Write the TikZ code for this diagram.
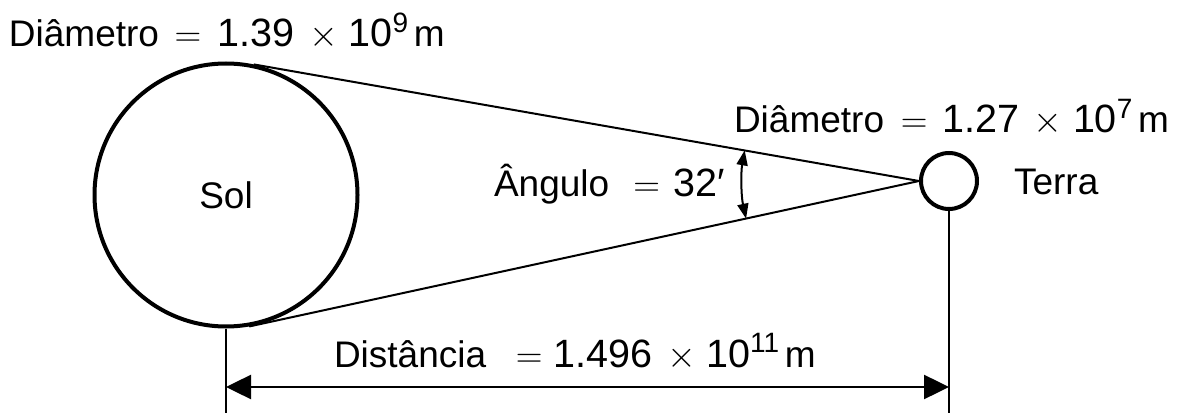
\RequirePackage{fix-cm}
\documentclass[tikz,border=0pt]{standalone}
\usepackage{fontspec}
\setmainfont{Liberation Sans}
\usetikzlibrary{arrows.meta}

\newcommand\bignum[1]{{\fontsize{39.5}{40}\selectfont #1}}
\newcommand\expo[1]{\raisebox{0.4em}{\fontsize{28}{28}\selectfont #1}\hspace{0.15em}}
\newcommand\eqsign[2]{\hspace{#1}$=$\hspace{#2}}
\newcommand\timessign{\hspace{0.4em}$\times$\hspace{0.28em}}

\tikzset{every picture/.style={line width=2pt}}

\begin{document}
\begin{tikzpicture}[x=1pt,y=1pt,yscale=-1,xscale=1,
  body/.style={draw,circle,line width=4pt,inner sep=0pt,font=\fontsize{37}{40}\selectfont},
  txt/.style={anchor=base west,inner sep=0pt,font=\fontsize{37}{40}\selectfont},
  dimline/.style={line width=2.5pt},
  dimarrow/.style={line width=2.5pt,{Triangle[length=25pt,width=24pt]}-{Triangle[length=25pt,width=24pt]}},
  angarrow/.style={line width=2pt,{Triangle[length=15pt,width=11pt]}-{Triangle[length=15pt,width=11pt]}}]
\useasboundingbox (0,0) rectangle (1184,414);

%Shape: Sun and Earth
\node[body,minimum size=263] (sol) at (226,195) {Sol};
\node[body,minimum size=56] (terra) at (949,181) {};
\coordinate (apex) at (terra.west);

%Shape: lines of sight
\draw (sol.78) -- (apex);
\draw (sol.-80) -- (apex);
\draw[angarrow] (apex) ++(189.97:177) arc[start angle=189.97,end angle=167.7,radius=177];

%Shape: distance
\coordinate (ground) at (0,413);
\coordinate (dimy) at (0,387);
\draw[dimline] (sol.south) -- (sol.south |- ground);
\draw[dimline] (terra.south) -- (terra.south |- ground);
\draw[dimarrow] (sol.south |- dimy) -- (terra.south |- dimy);

% Text Node
\node[txt] (diamsol) at (8,47) {Diâmetro\eqsign{0.42em}{0.45em}\bignum{1.39}\timessign\bignum{10}\expo{9}m};
% Text Node
\node[txt] (diamterra) at (733,133) {Diâmetro\eqsign{0.45em}{0.4em}\bignum{1.27}\timessign\bignum{10}\expo{7}m};
% Text Node
\node[txt] (angulo) at (493,197) {Ângulo\eqsign{0.65em}{0.38em}\bignum{32′}};
% Text Node
\node[txt] (terralbl) at (1013,195) {Terra};
% Text Node
\node[txt] (dist) at (333,367) {Distância\eqsign{0.8em}{0.3em}\bignum{1.496}\timessign\bignum{10}\expo{11}m};

\end{tikzpicture}
\end{document}
